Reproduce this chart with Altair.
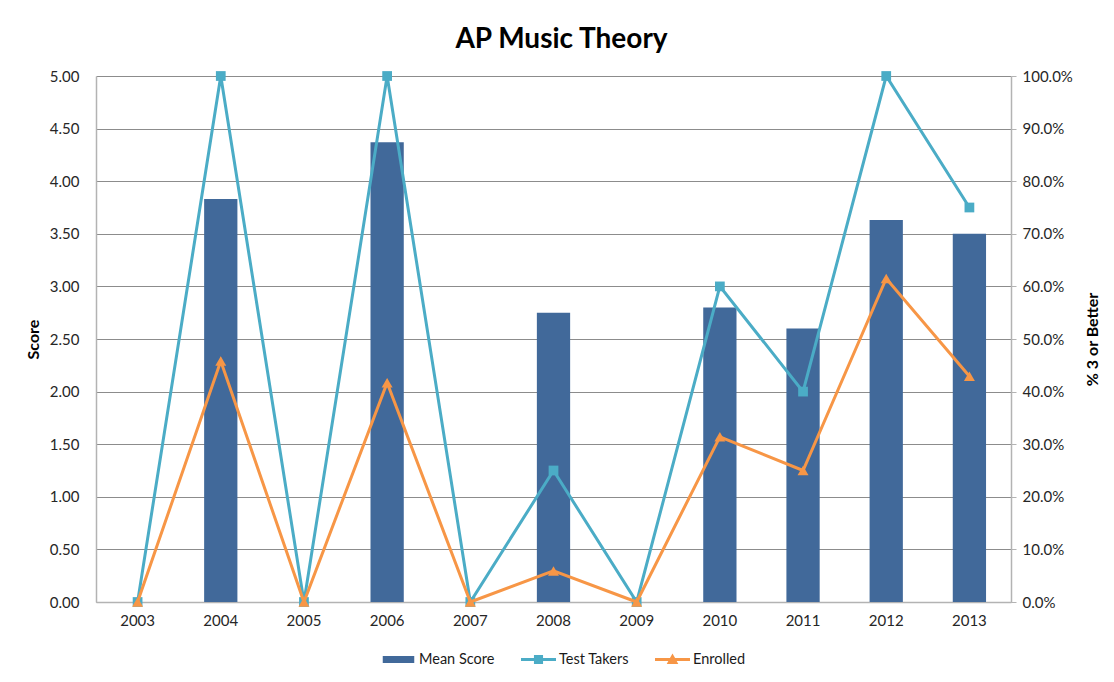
import altair as alt
import pandas as pd

years = ["2003", "2004", "2005", "2006", "2007", "2008", "2009", "2010", "2011", "2012", "2013"]
mean_score = [None, 3.83, None, 4.37, None, 2.75, None, 2.80, 2.60, 3.63, 3.50]
test_takers = [0.0, 1.0, 0.0, 1.0, 0.0, 0.25, 0.0, 0.60, 0.40, 1.0, 0.75]
enrolled = [0.0, 0.458, 0.0, 0.417, 0.0, 0.059, 0.0, 0.314, 0.25, 0.615, 0.429]

series = ["Mean Score", "Test Takers", "Enrolled"]
colors = ["#41699A", "#4BACC6", "#F79646"]
left_ticks = [0, 0.5, 1, 1.5, 2, 2.5, 3, 3.5, 4, 4.5, 5]
right_ticks = [0, 0.1, 0.2, 0.3, 0.4, 0.5, 0.6, 0.7, 0.8, 0.9, 1.0]

FONT = "Lato"

df = pd.DataFrame({"year": years, "mean": mean_score, "takers": test_takers, "enrolled": enrolled})

xenc = alt.X(
    "year:N",
    title=None,
    sort=years,
    scale=alt.Scale(paddingInner=0.6, paddingOuter=0.3),
    axis=alt.Axis(labelAngle=0, ticks=False, labelPadding=11, labelFont=FONT, labelFontSize=15,
                  labelColor="#262626", domainColor="#b3b3b3", domainWidth=1.5),
)

bars = alt.Chart(df).mark_bar(color=colors[0]).encode(
    x=xenc,
    y=alt.Y("mean:Q", title="Score", scale=alt.Scale(domain=[0, 5], nice=False),
            axis=alt.Axis(values=left_ticks, format=".2f", ticks=False, labelPadding=17,
                          labelFont=FONT, labelFontSize=15, labelColor="#262626",
                          titleFont=FONT, titleFontSize=16, titleFontWeight="bold", titleColor="black",
                          titlePadding=8, grid=True, gridColor="#8c8c8c", gridWidth=1,
                          domainColor="#b3b3b3", domainWidth=1.5)),
)

right_axis = alt.Axis(orient="right", values=right_ticks, format=".1%", tickSize=5, tickColor="#b3b3b3",
                      labelPadding=6, labelFont=FONT, labelFontSize=15, labelColor="#262626",
                      title="% 3 or Better", titleFont=FONT, titleFontSize=16, titleFontWeight="bold",
                      titleColor="black", titleAngle=270, titlePadding=28, grid=False,
                      domainColor="#b3b3b3", domainWidth=1.5)
rscale = alt.Scale(domain=[0, 1], nice=False)

base = alt.Chart(df).encode(x=alt.X("year:N", sort=years))

takers_line = base.mark_line(color=colors[1], strokeWidth=3).encode(
    y=alt.Y("takers:Q", scale=rscale, axis=right_axis, title="% 3 or Better"))
takers_pts = base.mark_point(shape="square", filled=True, size=95, opacity=1, color=colors[1]).encode(
    y=alt.Y("takers:Q", scale=rscale, axis=right_axis, title="% 3 or Better"))
enr_line = base.mark_line(color=colors[2], strokeWidth=3).encode(
    y=alt.Y("enrolled:Q", scale=rscale, axis=right_axis, title="% 3 or Better"))
enr_pts = base.mark_point(shape="triangle-up", filled=True, size=120, opacity=1, color=colors[2]).encode(
    y=alt.Y("enrolled:Q", scale=rscale, axis=right_axis, title="% 3 or Better"))

paths = [
    "M-0.9,-0.2H0.9V0.2H-0.9Z",
    "M-1,-0.085H-0.26V-0.26H0.26V-0.085H1V0.085H0.26V0.26H-0.26V0.085H-1Z",
    "M-1,-0.085H-0.146L0,-0.35L0.146,-0.085H1V0.085H0.239L0.33,0.25H-0.33L-0.239,0.085H-1Z",
]
leg = alt.Legend(orient="none", legendX=285, legendY=566, direction="horizontal", title=None,
                 symbolSize=1225, symbolStrokeWidth=0, labelFont=FONT, labelFontSize=14.5,
                 labelColor="#1a1a1a", columnPadding=26, labelOffset=3)
legend_df = pd.DataFrame({"series": series})
legend_layer = alt.Chart(legend_df).mark_point(filled=True, opacity=1, clip=True).encode(
    x=alt.value(-500), y=alt.value(-500),
    color=alt.Color("series:N", scale=alt.Scale(domain=series, range=colors), legend=leg),
    shape=alt.Shape("series:N", scale=alt.Scale(domain=series, range=paths), legend=leg),
)

right = alt.layer(takers_line, takers_pts, enr_line, enr_pts, legend_layer)

chart = alt.layer(bars, right).resolve_scale(y="independent").properties(
    width=915, height=526,
    title=alt.TitleParams("AP Music Theory", font=FONT, fontSize=28, fontWeight="bold",
                          anchor="middle", offset=15, dx=8, color="black"),
    autosize=alt.AutoSizeParams(type="none"),
    padding={"left": 88, "top": 68, "right": 95, "bottom": 72},
    background="white",
).configure_view(strokeWidth=0)

chart.save("out.html", embed_options={"renderer": "svg", "actions": False})
